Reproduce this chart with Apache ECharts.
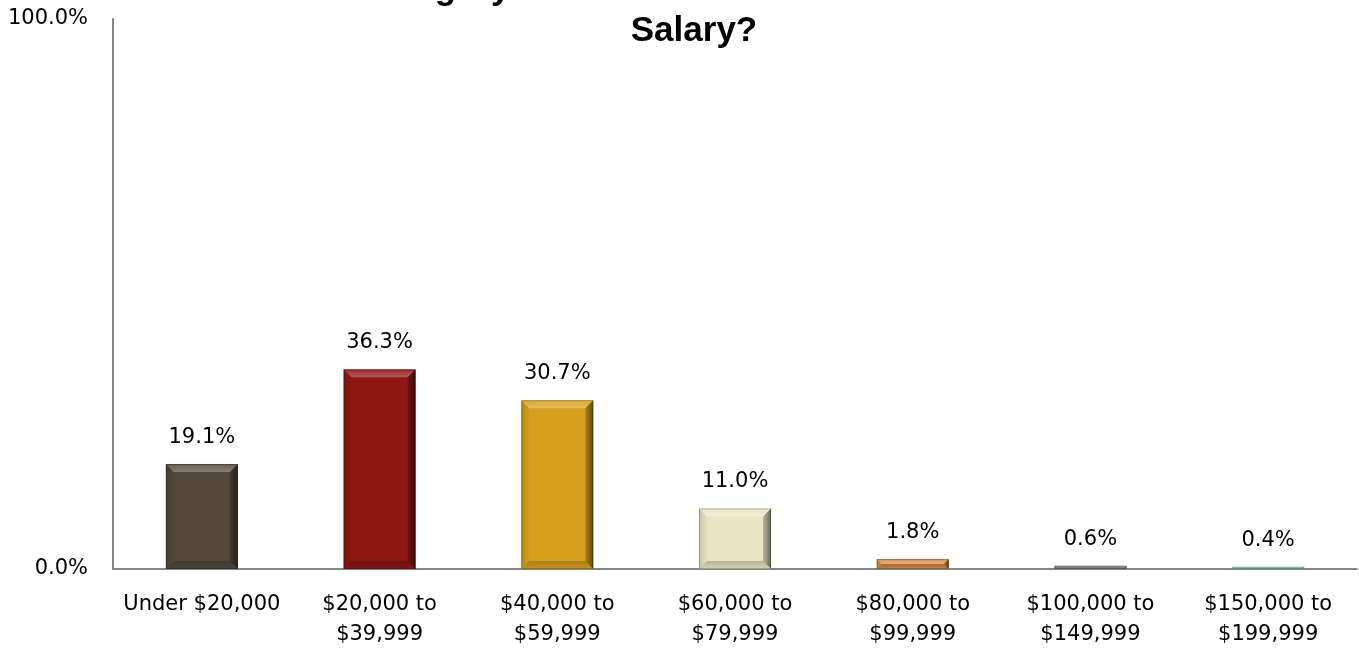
<!DOCTYPE html>
<html><head><meta charset="utf-8">
<script src="https://cdn.jsdelivr.net/npm/echarts@6/dist/echarts.min.js"></script>
<style>html,body{margin:0;padding:0;background:#fff}#c{width:1359px;height:652px}</style>
</head><body><div id="c"></div>
<script>
const titleText = 'What Category Best Describes Your Current Annual\nSalary?';
const categories = ['Under $20,000', '$20,000 to\n$39,999', '$40,000 to\n$59,999', '$60,000 to\n$79,999', '$80,000 to\n$99,999', '$100,000 to\n$149,999', '$150,000 to\n$199,999'];
const values = [19.1, 36.3, 30.7, 11.0, 1.8, 0.6, 0.4];
const barColors = ['#54483b', '#8e1714', '#d6a01d', '#ebe4c3', '#d68b4a', '#8e877f', '#94dccf'];
const yMin = 0, yMax = 100;
const barRatio = 0.405;

const mainData = values.map((v, i) => ({ value: v, itemStyle: { color: barColors[i] } }));
const bevelData = values.map((v, i) => [i, v]);

function renderBevel(params, api) {
  const i = api.value(0), v = api.value(1);
  const top = api.coord([i, v]);
  const base = api.coord([i, 0]);
  const w = api.size([1, 0])[0] * barRatio;
  const x0 = top[0] - w / 2, x1 = top[0] + w / 2;
  const y0 = top[1], y1 = base[1];
  const h = y1 - y0;
  const b = Math.max(0, Math.min(8, h / 2, w / 2));
  const grad = (x, y, x2, y2, c0, c1) => new echarts.graphic.LinearGradient(x, y, x2, y2, [
    { offset: 0, color: c0 }, { offset: 1, color: c1 }]);
  const poly = (pts, fill) => ({ type: 'polygon', shape: { points: pts }, style: { fill: fill }, silent: true });
  return {
    type: 'group',
    children: [
      poly([[x0, y0], [x0 + b, y0 + b], [x0 + b, y1 - b], [x0, y1]], grad(0, 0, 1, 0, 'rgba(0,0,0,0.15)', 'rgba(0,0,0,0.02)')),
      poly([[x1, y0], [x1 - b, y0 + b], [x1 - b, y1 - b], [x1, y1]], grad(0, 0, 1, 0, 'rgba(0,0,0,0.2)', 'rgba(0,0,0,0.55)')),
      poly([[x0, y0], [x1, y0], [x1 - b, y0 + b], [x0 + b, y0 + b]], grad(0, 0, 0, 1, 'rgba(255,255,255,0.1)', 'rgba(255,255,255,0.3)')),
      poly([[x0, y1], [x0 + b, y1 - b], [x1 - b, y1 - b], [x1, y1]], grad(0, 0, 0, 1, 'rgba(0,0,0,0.22)', 'rgba(0,0,0,0.08)')),
      { type: 'rect', shape: { x: x0 + 0.5, y: y0 + 0.5, width: w - 1, height: Math.max(0, h - 1) },
        style: { fill: 'none', stroke: 'rgba(0,0,0,0.25)', lineWidth: 1 }, silent: true }
    ]
  };
}

const font = 'DejaVu Sans';
const chart = echarts.init(document.getElementById('c'), null, { renderer: 'canvas' });
chart.setOption({
  animation: false,
  backgroundColor: '#ffffff',
  title: {
    text: titleText,
    left: 689,
    top: -37,
    textAlign: 'center',
    textStyle: { fontFamily: 'Liberation Sans', fontWeight: 'bold', fontSize: 35, lineHeight: 42, color: '#000' }
  },
  grid: { left: 113, right: 2, top: 19, bottom: 83, containLabel: false },
  xAxis: {
    type: 'category',
    data: categories,
    axisTick: { show: false },
    axisLine: { lineStyle: { color: '#868686', width: 2 } },
    axisLabel: { fontFamily: font, fontSize: 21, color: '#000', lineHeight: 30, margin: 21, interval: 0 }
  },
  yAxis: {
    type: 'value',
    min: yMin, max: yMax, interval: 100,
    axisTick: { show: false },
    splitLine: { show: false },
    axisLine: { show: true, lineStyle: { color: '#868686', width: 2 } },
    axisLabel: { fontFamily: font, fontSize: 21, color: '#000', margin: 25, formatter: v => v.toFixed(1) + '%' }
  },
  series: [
    {
      type: 'bar',
      data: mainData,
      barWidth: (barRatio * 100) + '%',
      label: {
        show: true, position: 'top', distance: 16,
        fontFamily: font, fontSize: 21, color: '#000',
        formatter: p => p.value.toFixed(1) + '%'
      }
    },
    {
      type: 'custom',
      data: bevelData,
      renderItem: renderBevel,
      silent: true,
      z: 3
    }
  ]
});
</script>
</body></html>
